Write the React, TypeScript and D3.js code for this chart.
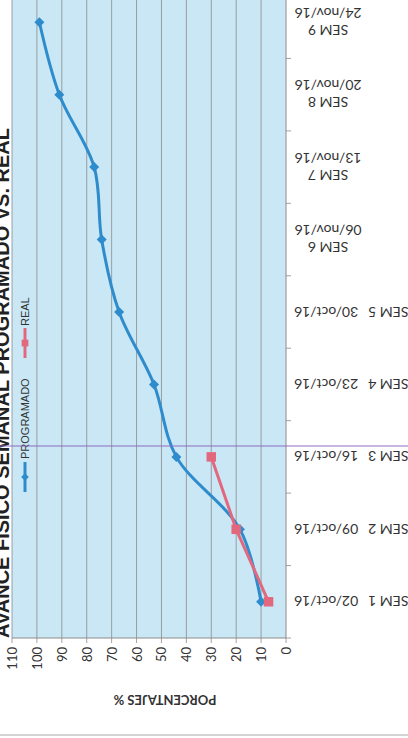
import * as d3 from "d3";

const weeks = ["SEM 1", "SEM 2", "SEM 3", "SEM 4", "SEM 5", "SEM 6", "SEM 7", "SEM 8", "SEM 9"];
const dates = ["02/oct/16", "09/oct/16", "16/oct/16", "23/oct/16", "30/oct/16", "06/nov/16", "13/nov/16", "20/nov/16", "24/nov/16"];
// the last four labels were wrapped onto two lines
const wrapped = [false, false, false, false, false, true, true, true, true];
const programado = [10, 18.5, 44, 53, 67, 74, 77, 91, 99];
const real = [7, 20, 30];
const yTicks = [0, 10, 20, 30, 40, 50, 60, 70, 80, 90, 100, 110];

// chart is laid out landscape, then turned a quarter turn like the scanned page
const W = 738;
const H = 408;

const BLUE = "#2e8ccc";
const RED = "#e2687e";
const GRID = "#8c8c8c";
const FONT = "Lato, 'Open Sans', sans-serif";

export default function App() {
  const x = d3.scaleBand().domain(weeks).range([100, 752]);
  const y = d3.scaleLinear().domain([0, 110]).range([286, 12]);
  const cx = (i: number) => x(weeks[i])! + x.bandwidth() / 2;

  const progLine = d3
    .line<number>()
    .x((_, i) => cx(i))
    .y((d) => y(d))
    .curve(d3.curveCatmullRom.alpha(0.5));
  const realLine = d3
    .line<number>()
    .x((_, i) => cx(i))
    .y((d) => y(d));

  const diamond = d3.symbol(d3.symbolSquare, 50)()!;
  const square = d3.symbol(d3.symbolSquare, 90)()!;
  const legDiamond = d3.symbol(d3.symbolSquare, 30)()!;
  const legSquare = d3.symbol(d3.symbolSquare, 45)()!;

  const bounds = weeks.map((w) => x(w)!).concat([x.range()[1]]);

  return (
    <svg
      width={H}
      height={W}
      style={{ position: "absolute", left: 0, top: 0, background: "#fff" }}
    >
      <g transform={`translate(0,${W}) rotate(-90)`}>
        {/* title, cut off by the page edge as in the scan */}
        <text
          x={610}
          y={9}
          textAnchor="end"
          fontFamily="'Liberation Sans', Arial, sans-serif"
          fontWeight="bold"
          fontSize={20}
          fill="#222"
        >
          AVANCE FISICO SEMANAL PROGRAMADO VS. REAL
        </text>

        {/* plot area */}
        <rect x={100} y={y(110)} width={680} height={y(0) - y(110)} fill="#c9e7f5" />

        {yTicks.map((t) => (
          <g key={t}>
            {t > 0 && (
              <line x1={100} x2={780} y1={y(t)} y2={y(t)} stroke={GRID} strokeWidth={0.8} />
            )}
            <line x1={95} x2={100} y1={y(t)} y2={y(t)} stroke={GRID} strokeWidth={0.8} />
            <text
              x={91}
              y={y(t)}
              textAnchor="end"
              dominantBaseline="central"
              fontFamily={FONT}
              fontSize={13}
              fill="#333"
            >
              {t}
            </text>
          </g>
        ))}

        {/* axis lines */}
        <line x1={100} x2={100} y1={y(110)} y2={y(0)} stroke={GRID} strokeWidth={1} />
        <line x1={100} x2={780} y1={y(0)} y2={y(0)} stroke={GRID} strokeWidth={1} />
        {bounds.map((b, i) => (
          <line key={i} x1={b} x2={b} y1={y(0)} y2={y(0) + 5} stroke={GRID} strokeWidth={0.8} />
        ))}

        {/* category labels */}
        {weeks.map((w, i) =>
          wrapped[i] ? (
            <text
              key={w}
              transform={`translate(${cx(i)},328) rotate(-90)`}
              textAnchor="middle"
              dominantBaseline="central"
              fontFamily={FONT}
              fontSize={14}
              fill="#333"
            >
              <tspan x={0} y={-8.5}>{w}</tspan>
              <tspan x={0} y={8.5}>{dates[i]}</tspan>
            </text>
          ) : (
            <g key={w} fontFamily={FONT} fontSize={14} fill="#333">
              <text
                transform={`translate(${cx(i)},294) rotate(-90)`}
                textAnchor="end"
                dominantBaseline="central"
              >
                {dates[i]}
              </text>
              <text
                transform={`translate(${cx(i)},368) rotate(-90)`}
                textAnchor="end"
                dominantBaseline="central"
              >
                {w}
              </text>
            </g>
          )
        )}

        {/* y axis title */}
        <text
          transform="translate(38,165) rotate(-90)"
          textAnchor="middle"
          dominantBaseline="central"
          fontFamily={FONT}
          fontWeight="bold"
          fontSize={13}
          fill="#333"
        >
          PORCENTAJES %
        </text>

        {/* series */}
        <path d={progLine(programado)!} fill="none" stroke={BLUE} strokeWidth={3} />
        {programado.map((v, i) => (
          <path
            key={i}
            d={diamond}
            transform={`translate(${cx(i)},${y(v)}) rotate(45)`}
            fill={BLUE}
          />
        ))}
        <path d={realLine(real)!} fill="none" stroke={RED} strokeWidth={3} />
        {real.map((v, i) => (
          <path key={i} d={square} transform={`translate(${cx(i)},${y(v)})`} fill={RED} />
        ))}

        {/* legend */}
        <line x1={246} x2={276} y1={25} y2={25} stroke={BLUE} strokeWidth={3} />
        <path d={legDiamond} transform="translate(261,25) rotate(45)" fill={BLUE} />
        <text
          x={279}
          y={25}
          dominantBaseline="central"
          fontFamily="'Liberation Sans Narrow', 'Liberation Sans', sans-serif"
          fontSize={11}
          fill="#333"
        >
          PROGRAMADO
        </text>
        <line x1={380} x2={410} y1={25} y2={25} stroke={RED} strokeWidth={3} />
        <path d={legSquare} transform="translate(395,25)" fill={RED} />
        <text
          x={412}
          y={25}
          dominantBaseline="central"
          fontFamily="'Liberation Sans Narrow', 'Liberation Sans', sans-serif"
          fontSize={11}
          fill="#333"
        >
          REAL
        </text>

        {/* marks from the scanned page */}
        <line x1={292} x2={292} y1={0} y2={H} stroke="#8e6cc2" strokeWidth={1} />
        <line x1={3} x2={3} y1={0} y2={H} stroke="#c4c4c4" strokeWidth={1.5} />
      </g>
    </svg>
  );
}
